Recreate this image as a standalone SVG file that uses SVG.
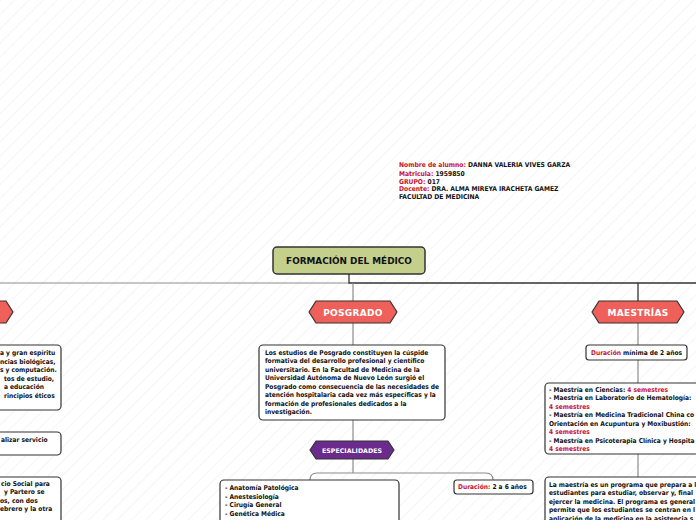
<svg xmlns="http://www.w3.org/2000/svg" width="696" height="520" viewBox="0 0 696 520">
<defs>
<pattern id="hatch" width="10" height="10" patternUnits="userSpaceOnUse" patternTransform="rotate(45)">
<line x1="0" y1="0" x2="0" y2="10" stroke="#ececec" stroke-width="1"/>
</pattern>
<style>
.box{fill:#fff;stroke:#333;stroke-width:1.2}
.t{font-family:"DejaVu Sans Condensed","DejaVu Sans",sans-serif;font-stretch:condensed;font-weight:bold;font-size:6.6px;fill:#111}
.h{font-family:"DejaVu Sans Condensed","DejaVu Sans",sans-serif;font-stretch:condensed;font-weight:bold;font-size:6.7px;fill:#111}
.r{fill:#c8102e}
.hexr{fill:#f0605a;stroke:#333;stroke-width:1.2;stroke-linejoin:round}
.hexp{fill:#6b2b8c;stroke:#333;stroke-width:1.2;stroke-linejoin:round}
.lab{font-family:"DejaVu Sans",sans-serif;font-weight:bold;font-size:9px;fill:#fff;text-anchor:middle}
.lab2{font-family:"DejaVu Sans",sans-serif;font-weight:bold;font-size:6.3px;fill:#fff;text-anchor:middle}
.c1{fill:none;stroke:#333;stroke-width:1.3}
.c2{fill:none;stroke:#8c8c8c;stroke-width:1.2}
</style>
</defs>
<rect width="696" height="520" fill="#fff"/>
<rect width="696" height="520" fill="url(#hatch)"/>

<g id="header">
<text class="h" x="399" y="167"><tspan class="r">Nombre de alumno:</tspan> DANNA VALERIA VIVES GARZA</text>
<text class="h" x="399" y="175.5"><tspan class="r">Matricula:</tspan> 1959850</text>
<text class="h" x="399" y="183.5"><tspan class="r">GRUPO:</tspan> 017</text>
<text class="h" x="399" y="191"><tspan class="r">Docente:</tspan> DRA. ALMA MIREYA IRACHETA GAMEZ</text>
<text class="h" x="399" y="198.5">FACULTAD DE MEDICINA</text>
</g>

<g id="connectors">
<path class="c2" d="M349 283 H0"/>
<path class="c1" d="M349 274 V283 H696"/>
<path class="c2" d="M353 283 V301 M353 323 V345 M353 420 V441 M353 459 V473"/>
<path class="c2" d="M310 480 Q310 473 317 473 H486 Q493 473 493 480"/>
<path class="c1" d="M638 283 V301"/>
<path class="c2" d="M638 323 V345 M638 360 V383 M638 454 V477"/>
</g>

<g id="root">
<rect x="273" y="247" width="152" height="27" rx="4" fill="#c4cf8c" stroke="#333" stroke-width="1.5"/>
<text x="349" y="264" font-family="DejaVu Sans, sans-serif" font-weight="bold" font-size="8.9" fill="#111" text-anchor="middle">FORMACIÓN DEL MÉDICO</text>
</g>

<g id="left-hex">
<polygon class="hexr" points="-20,301 6,301 13,312 6,323 -20,323"/>
</g>

<g id="left-box1">
<rect class="box" x="-10" y="345" width="71" height="65" rx="4"/>
<text class="t" x="0" y="355">a y gran espíritu</text>
<text class="t" x="0" y="363.5">ncias biológicas,</text>
<text class="t" x="0" y="372">s y computación.</text>
<text class="t" x="4" y="380.5">tos de estudio,</text>
<text class="t" x="4" y="389">a educación</text>
<text class="t" x="4" y="397.5">rincipios éticos</text>
</g>

<g id="left-box2">
<rect class="box" x="-10" y="432" width="71" height="23" rx="4"/>
<text class="t" x="1" y="441.5">alizar servicio</text>
</g>

<g id="left-box3">
<rect class="box" x="-10" y="477" width="71" height="60" rx="4"/>
<text class="t" x="1" y="485.5">cio Social para</text>
<text class="t" x="4" y="494">y Partero se</text>
<text class="t" x="0" y="502.5">os, con dos</text>
<text class="t" x="0" y="511">ebrero y la otra</text>
</g>

<g id="posgrado">
<polygon class="hexr" points="309,312 316,301 390,301 397,312 390,323 316,323"/>
<text class="lab" x="353" y="316" letter-spacing="0.3">POSGRADO</text>
</g>

<g id="posgrado-text">
<rect class="box" x="259" y="345" width="186" height="75" rx="4"/>
<text class="t" x="265" y="354.5">Los estudios de Posgrado constituyen la cúspide</text>
<text class="t" x="265" y="363">formativa del desarrollo profesional y científico</text>
<text class="t" x="265" y="371.5">universitario. En la Facultad de Medicina de la</text>
<text class="t" x="265" y="380">Universidad Autónoma de Nuevo León surgió el</text>
<text class="t" x="265" y="388.5">Posgrado como consecuencia de las necesidades de</text>
<text class="t" x="265" y="397">atención hospitalaria cada vez más específicas y la</text>
<text class="t" x="265" y="405.5">formación de profesionales dedicados a la</text>
<text class="t" x="265" y="414">investigación.</text>
</g>

<g id="especialidades">
<polygon class="hexp" points="310,450 316,441 388,441 394,450 388,459 316,459"/>
<text class="lab2" x="352" y="452.5">ESPECIALIDADES</text>
</g>

<g id="esp-list">
<rect class="box" x="220" y="480" width="179" height="60" rx="4"/>
<text class="t" x="225" y="490">- Anatomía Patológica</text>
<text class="t" x="225" y="498.5">- Anestesiología</text>
<text class="t" x="225" y="507">- Cirugía General</text>
<text class="t" x="225" y="515.5">- Genética Médica</text>
</g>

<g id="esp-duracion">
<rect class="box" x="454" y="480" width="79" height="14" rx="3"/>
<text class="t" x="458" y="489"><tspan class="r">Duración:</tspan> 2 a 6 años</text>
</g>

<g id="maestrias">
<polygon class="hexr" points="592,312 599,301 677,301 684,312 677,323 599,323"/>
<text class="lab" x="638" y="316" letter-spacing="0.3">MAESTRÍAS</text>
</g>

<g id="mae-duracion">
<rect class="box" x="586" y="345" width="101" height="15" rx="3"/>
<text class="t" x="591" y="355"><tspan class="r">Duración</tspan> mínima de 2 años</text>
</g>

<g id="mae-list">
<rect class="box" x="545" y="383" width="200" height="71" rx="4"/>
<text class="t" x="549" y="391.5">- Maestría en Ciencias: <tspan class="r">4 semestres</tspan></text>
<text class="t" x="549" y="400">- Maestría en Laboratorio de Hematología:</text>
<text class="t r" x="549" y="408.5">4 semestres</text>
<text class="t" x="549" y="417">- Maestría en Medicina Tradicional China co</text>
<text class="t" x="549" y="425.5">Orientación en Acupuntura y Moxibustión:</text>
<text class="t r" x="549" y="434">4 semestres</text>
<text class="t" x="549" y="442.5">- Maestría en Psicoterapia Clínica y Hospita</text>
<text class="t r" x="549" y="451">4 semestres</text>
</g>

<g id="mae-text">
<rect class="box" x="545" y="477" width="200" height="60" rx="4"/>
<text class="t" x="549" y="486.5">La maestría es un programa que prepara a l</text>
<text class="t" x="549" y="495">estudiantes para estudiar, observar y, final</text>
<text class="t" x="549" y="503.5">ejercer la medicina. El programa es general</text>
<text class="t" x="549" y="512">permite que los estudiantes se centran en l</text>
<text class="t" x="549" y="520.5">aplicación de la medicina en la asistencia s</text>
</g>
</svg>
